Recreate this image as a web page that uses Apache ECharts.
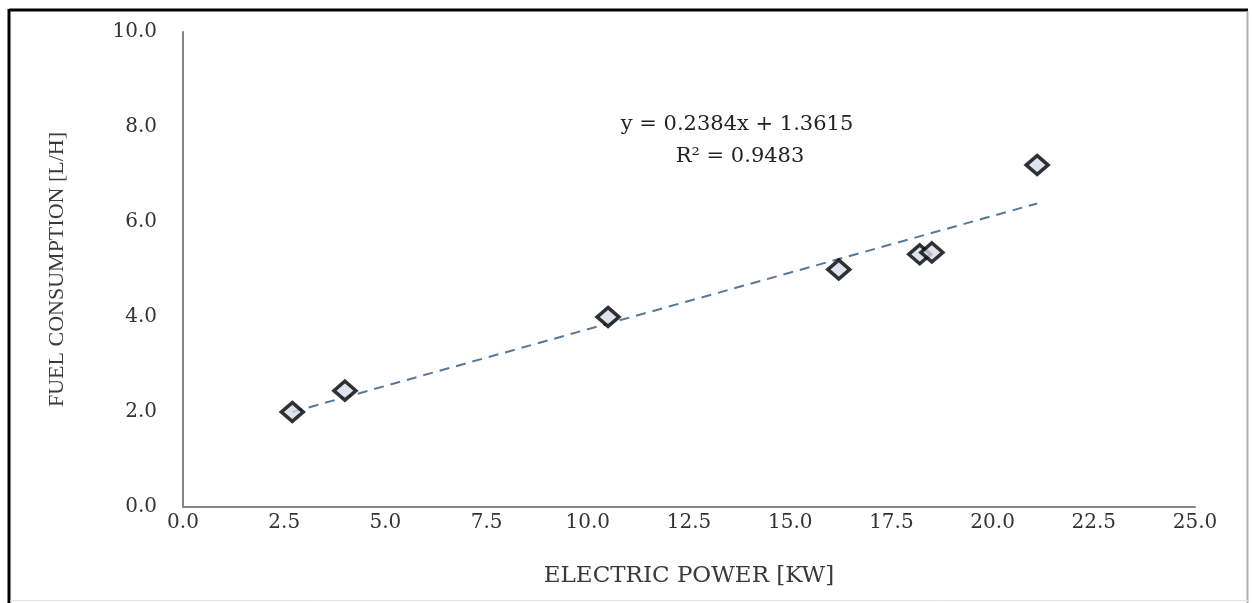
<!DOCTYPE html>
<html>
<head>
<meta charset="utf-8">
<script src="https://cdn.jsdelivr.net/npm/echarts@6/dist/echarts.min.js"></script>
<style>
html,body{margin:0;padding:0;background:#fff;}
#c{width:1252px;height:603px;}
</style>
</head>
<body>
<div id="c"></div>
<script>
// Data
const powerKW = [2.7, 4.0, 10.5, 16.2, 18.2, 18.5, 21.1];
const fuelLH  = [2.0, 2.45, 4.0, 5.0, 5.32, 5.36, 7.2];
const trendX  = [2.7, 21.1];
const trendY  = [2.0, 6.39];
const equationLines = ['y = 0.2384x + 1.3615', 'R² = 0.9483'];
const xTitle = 'ELECTRIC POWER [KW]';
const yTitle = 'FUEL CONSUMPTION [L/H]';

const serifWide = '"DejaVu Serif", serif';
const serif = '"Liberation Serif", "Times New Roman", serif';

const chart = echarts.init(document.getElementById('c'));
chart.setOption({
  backgroundColor: '#ffffff',
  animation: false,
  grid: { left: 183, right: 57, top: 32, bottom: 96, containLabel: false },
  xAxis: {
    type: 'value', min: 0, max: 25, interval: 2.5,
    name: xTitle, nameLocation: 'middle', nameGap: 58,
    nameTextStyle: { fontFamily: serifWide, fontSize: 23, color: '#3a3a3a' },
    axisLine: { show: true, lineStyle: { color: '#868686', width: 2 } },
    axisTick: { show: false },
    splitLine: { show: false },
    axisLabel: { fontFamily: serifWide, fontSize: 20, color: '#333333', margin: 6,
      formatter: v => v.toFixed(1) }
  },
  yAxis: {
    type: 'value', min: 0, max: 10, interval: 2,
    name: yTitle, nameLocation: 'middle', nameGap: 115, nameRotate: 90,
    nameTextStyle: { fontFamily: serif, fontSize: 22, color: '#3a3a3a' },
    axisLine: { show: true, lineStyle: { color: '#868686', width: 2 } },
    axisTick: { show: false },
    splitLine: { show: false },
    axisLabel: { fontFamily: serifWide, fontSize: 20, color: '#333333', margin: 26,
      formatter: v => v.toFixed(1) }
  },
  series: [
    {
      type: 'line',
      data: trendX.map((x, i) => [x, trendY[i]]),
      symbol: 'none',
      lineStyle: { color: '#5a7896', width: 2, type: [10, 7] },
      z: 2
    },
    {
      type: 'scatter',
      data: powerKW.map((x, i) => [x, fuelLH[i]]),
      symbol: 'diamond',
      symbolSize: [22, 19],
      itemStyle: { color: '#d6dce8', borderColor: '#000000', borderWidth: 3.5 },
      z: 3
    }
  ],
  graphic: [
    { type: 'group', silent: true, children: [
      { type: 'text', x: 737, y: 125,
        style: { text: equationLines[0], fontFamily: serifWide, fontSize: 21, fill: '#222222',
          align: 'center', verticalAlign: 'middle' } },
      { type: 'text', x: 740, y: 157,
        style: { text: equationLines[1], fontFamily: serifWide, fontSize: 21, fill: '#222222',
          align: 'center', verticalAlign: 'middle' } }
    ]},
    { type: 'line', silent: true, shape: { x1: 9, y1: 10, x2: 1248, y2: 10 },
      style: { stroke: '#000', lineWidth: 3 } },
    { type: 'line', silent: true, shape: { x1: 9, y1: 9, x2: 9, y2: 603 },
      style: { stroke: '#000', lineWidth: 3 } },
    { type: 'line', silent: true, shape: { x1: 1247.5, y1: 11, x2: 1247.5, y2: 603 },
      style: { stroke: '#b0b0b0', lineWidth: 2 } },
    { type: 'line', silent: true, shape: { x1: 10, y1: 600.5, x2: 1248, y2: 600.5 },
      style: { stroke: '#e4e4e4', lineWidth: 1 } }
  ]
});
</script>
</body>
</html>
